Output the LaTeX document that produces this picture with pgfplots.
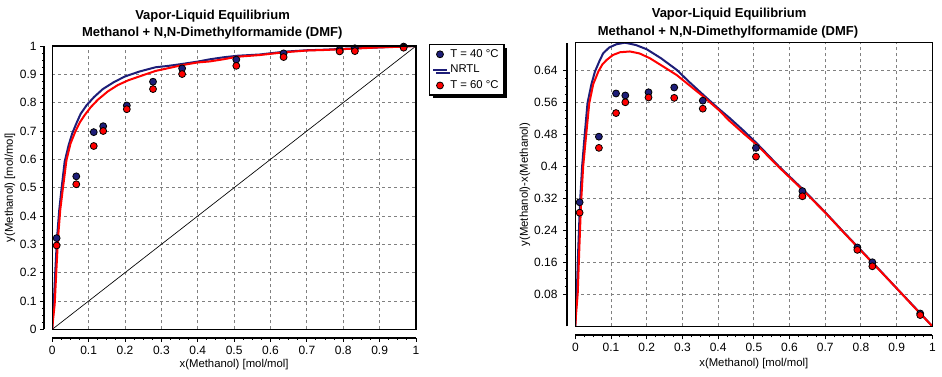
\documentclass[border=0pt]{standalone}
\usepackage{fontspec}
\setmainfont{Liberation Sans}
\usepackage{pgfplots}
\pgfplotsset{compat=1.18}
\usetikzlibrary{shadows}
\definecolor{navy}{RGB}{30,30,120}
\definecolor{gridgray}{RGB}{128,128,128}
\newcommand{\fsz}{\fontsize{8.5}{10}\selectfont}
\newcommand{\fsk}{\fontsize{9}{10}\selectfont}
\newcommand{\fst}{\fontsize{9.75}{12}\selectfont\bfseries}

\pgfplotsset{
 vle/.style={
  scale only axis,
  axis lines=left,
  axis line style={-, line width=1.5pt},
  xmin=0, xmax=1,
  xtick={0,0.1,0.2,0.3,0.4,0.5,0.6,0.7,0.8,0.9,1},
  xticklabels={0,0.1,0.2,0.3,0.4,0.5,0.6,0.7,0.8,0.9,1},
  minor x tick num=3,
  minor y tick num=3,
  tick align=outside,
  major tick length=3pt,
  minor tick length=1.5pt,
  tick style={black, line width=0.75pt},
  grid=major,
  major grid style={gridgray, line width=0.75pt, dash pattern=on 2.25pt off 2.25pt},
  ticklabel style={font=\fsk},
  label style={font=\fsz},
  after end axis/.code={\draw[black,line width=1pt] (rel axis cs:0,0) rectangle (rel axis cs:1,1);},
  legend image code/.code={\draw[mark repeat=2,mark phase=2,##1] plot coordinates {(0pt,0pt) (5pt,0pt) (10pt,0pt)};},
 },
 pts40/.style={only marks, mark=*, mark size=2.6pt, mark options={fill=navy, draw=black, line width=0.6pt}},
 pts60/.style={only marks, mark=*, mark size=2.6pt, mark options={fill=red, draw=black, line width=0.6pt}},
 nrtl40/.style={navy, line width=1.5pt, no marks},
 nrtl60/.style={red, line width=1.5pt, no marks},
}

\begin{document}
\begin{tikzpicture}
\useasboundingbox (0,0) rectangle (706.5pt,282pt);

\node[font=\fst] at (159.4pt,269.8pt) {Vapor-Liquid Equilibrium};
\node[font=\fst] at (159.2pt,257.0pt) {Methanol + N,N-Dimethylformamide (DMF)};
\node[font=\fst] at (546.8pt,271.5pt) {Vapor-Liquid Equilibrium};
\node[font=\fst] at (546.0pt,258.2pt) {Methanol + N,N-Dimethylformamide (DMF)};

\begin{axis}[vle,
  at={(39.2pt,35.0pt)}, anchor=south west,
  width=272.8pt, height=212.5pt,
  axis x line shift=6.3pt, axis y line shift=6pt,
  yticklabel style={xshift=0.8pt},
  ymin=0, ymax=1,
  ytick={0,0.1,0.2,0.3,0.4,0.5,0.6,0.7,0.8,0.9,1},
  yticklabels={0,0.1,0.2,0.3,0.4,0.5,0.6,0.7,0.8,0.9,1},
  xlabel={x(Methanol) [mol/mol]},
  ylabel={y(Methanol) [mol/mol]},
  xlabel style={at={(rel axis cs:0.5,-0.126)}, anchor=center},
  ylabel style={at={(rel axis cs:-0.1163,0.5)}, anchor=center},
  legend style={at={(axis description cs:1.0357,1.007)}, anchor=north west,
    draw=black, line width=1pt, fill=white, font=\fsz,
    drop shadow={shadow xshift=2.25pt, shadow yshift=-2.25pt, opacity=1, fill=black},
    inner xsep=2pt, inner ysep=1.5pt, row sep=0.3pt},
  legend cell align=left,
]
\addplot[black, line width=0.5pt, forget plot] coordinates {(0,0) (1,1)};
\addplot[pts40] coordinates {
(0.012,0.322) (0.066,0.540) (0.114,0.696) (0.140,0.717) (0.205,0.790) (0.277,0.874)
(0.357,0.921) (0.506,0.952) (0.636,0.974) (0.790,0.987) (0.832,0.992) (0.966,0.998)};
\addlegendentry{T = 40 °C}
\addplot[nrtl40] coordinates {
(0,0) (0.001,0.031) (0.004,0.0865) (0.008,0.198) (0.013,0.3205) (0.019,0.419) (0.025,0.491)
(0.034,0.5915) (0.045,0.65) (0.055,0.692) (0.067,0.729) (0.078,0.7605) (0.095,0.792)
(0.115,0.82) (0.139,0.848) (0.17,0.873) (0.2,0.8925) (0.24,0.91) (0.284,0.925) (0.32,0.93)
(0.359,0.937) (0.4,0.945) (0.433,0.953) (0.47,0.96) (0.508,0.9655) (0.57,0.97) (0.639,0.98)
(0.7,0.985) (0.75,0.987) (0.8,0.99) (0.85,0.993) (0.9,0.995) (0.95,0.998) (1,1)};
\addlegendentry{NRTL}
\addplot[pts60] coordinates {
(0.012,0.296) (0.066,0.512) (0.114,0.647) (0.140,0.700) (0.205,0.777) (0.277,0.848)
(0.357,0.901) (0.506,0.930) (0.636,0.961) (0.790,0.981) (0.832,0.982) (0.966,0.994)};
\addlegendentry{T = 60 °C}
\addplot[nrtl60, forget plot] coordinates {
(0,0) (0.002,0.032) (0.0067,0.0892) (0.011,0.201) (0.016,0.3235) (0.022,0.422) (0.029,0.495)
(0.039,0.5965) (0.05,0.655) (0.0645,0.7015) (0.076,0.731) (0.088,0.754) (0.105,0.783)
(0.125,0.81) (0.153,0.84) (0.18,0.862) (0.209,0.879) (0.245,0.895) (0.284,0.912) (0.32,0.922)
(0.359,0.933) (0.4,0.942) (0.433,0.9455) (0.47,0.953) (0.508,0.962) (0.57,0.968) (0.639,0.978)
(0.7,0.984) (0.75,0.986) (0.8,0.989) (0.85,0.992) (0.9,0.995) (0.95,0.997) (1,1)};
\end{axis}

\begin{axis}[vle,
  at={(431.5pt,37.3pt)}, anchor=south west,
  width=267.75pt, height=212.7pt,
  axis x line shift=6.9pt, axis y line shift=6pt,
  yticklabel style={xshift=-0.8pt},
  xticklabel style={yshift=1pt},
  ymin=0, ymax=0.709,
  ytick={0.08,0.16,0.24,0.32,0.4,0.48,0.56,0.64},
  yticklabels={0.08,0.16,0.24,0.32,0.4,0.48,0.56,0.64},
  xlabel={x(Methanol) [mol/mol]},
  ylabel={y(Methanol)-x(Methanol)},
  xlabel style={at={(rel axis cs:0.5,-0.1298)}, anchor=center},
  ylabel style={at={(rel axis cs:-0.141,0.5)}, anchor=center},
]
\addplot[pts40] coordinates {
(0.012,0.310) (0.066,0.474) (0.114,0.582) (0.140,0.577) (0.205,0.585) (0.277,0.597)
(0.357,0.564) (0.506,0.446) (0.636,0.338) (0.790,0.197) (0.832,0.160) (0.966,0.032)};
\addplot[nrtl40] coordinates {
(0,0) (0.001,0.03) (0.004,0.0825) (0.008,0.19) (0.013,0.3075) (0.019,0.40) (0.025,0.466)
(0.034,0.5575) (0.045,0.605) (0.055,0.637) (0.067,0.662) (0.078,0.6825) (0.095,0.697)
(0.115,0.705) (0.139,0.709) (0.17,0.703) (0.2,0.6925) (0.24,0.67) (0.284,0.641) (0.32,0.61)
(0.359,0.578) (0.4,0.545) (0.433,0.52) (0.47,0.49) (0.508,0.4575) (0.57,0.40) (0.639,0.341)
(0.7,0.285) (0.75,0.237) (0.8,0.19) (0.85,0.143) (0.9,0.095) (0.95,0.048) (1,0)};
\addplot[pts60] coordinates {
(0.012,0.284) (0.066,0.446) (0.114,0.533) (0.140,0.560) (0.205,0.572) (0.277,0.571)
(0.357,0.544) (0.506,0.424) (0.636,0.325) (0.790,0.191) (0.832,0.150) (0.966,0.028)};
\addplot[nrtl60] coordinates {
(0,0) (0.002,0.03) (0.0067,0.0825) (0.011,0.19) (0.016,0.3075) (0.022,0.40) (0.029,0.466)
(0.039,0.5575) (0.05,0.605) (0.0645,0.637) (0.076,0.655) (0.088,0.666) (0.105,0.678)
(0.125,0.685) (0.153,0.687) (0.18,0.682) (0.209,0.67) (0.245,0.65) (0.284,0.628) (0.32,0.602)
(0.359,0.574) (0.4,0.542) (0.433,0.5125) (0.47,0.483) (0.508,0.454) (0.57,0.398) (0.639,0.339)
(0.7,0.284) (0.75,0.236) (0.8,0.189) (0.85,0.142) (0.9,0.095) (0.95,0.047) (1,0)};
\end{axis}
\end{tikzpicture}
\end{document}
